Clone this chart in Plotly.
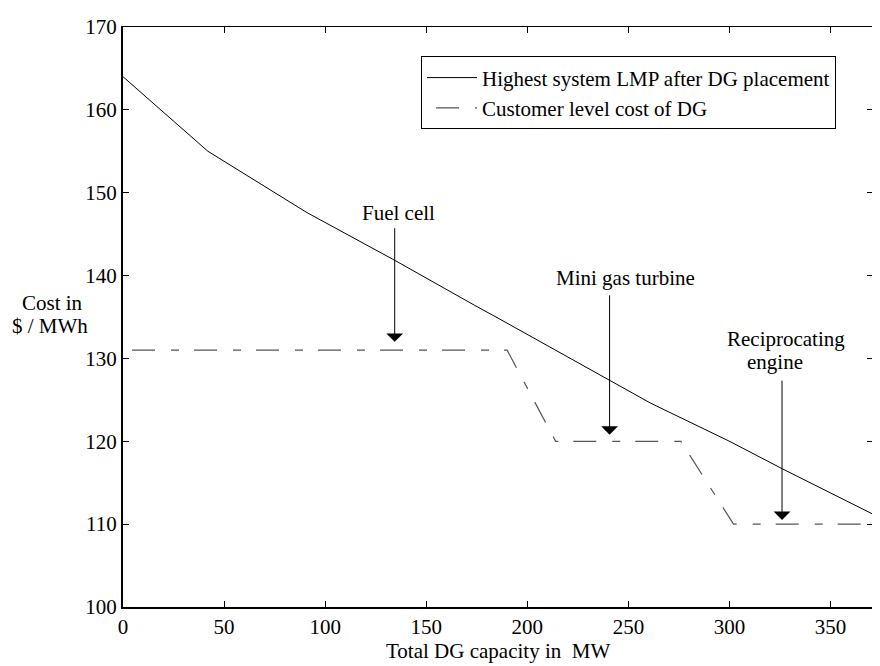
import plotly.graph_objects as go

# ---- data ----
capacity_lmp = [0, 42, 91, 134, 174, 186, 261, 300, 326, 371]
lmp_cost = [164.0, 155.0, 147.6, 141.9, 136.4, 134.8, 124.6, 120.0, 116.7, 111.2]

capacity_dg = [0, 190, 214, 276, 302, 371]
dg_cost = [131, 131, 120, 120, 110, 110]

x_ticks = [0, 50, 100, 150, 200, 250, 300, 350]
y_ticks = [100, 110, 120, 130, 140, 150, 160, 170]

# arrow labels: arrow x, arrow tail y, arrow tip y
arrow_labels = ["Fuel cell", "Mini gas turbine", "Reciprocating engine"]
arrow_x = [134.4, 240.7, 326]
arrow_tail = [145.9, 137.8, 127.5]
arrow_tip = [132.0, 120.8, 110.5]

FONT = "Liberation Serif, Times New Roman, serif"
FS = 21

# page body has an 8px margin; figure is sized to compensate
W, H = 872, 658
ML, MR, MT, MB = 115, 7, 8, 59
PH = H - MT - MB  # plot height in px

fig = go.Figure()
fig.add_trace(go.Scatter(
    x=capacity_lmp, y=lmp_cost, mode="lines",
    name="Highest system LMP after DG placement",
    line=dict(color="black", width=1)))
fig.add_trace(go.Scatter(
    x=capacity_dg, y=dg_cost, mode="lines",
    name="Customer level cost of DG",
    line=dict(color="#555555", width=1.2, dash="0px,9px,23px,16px,8px,6px")))
# carrier trace so the mirrored top/right axes are drawn
fig.add_trace(go.Scatter(x=[None], y=[None], xaxis="x2", yaxis="y2",
                         mode="lines", showlegend=False, hoverinfo="skip"))

annotations = []
for xa, yt, yh in zip(arrow_x, arrow_tail, arrow_tip):
    annotations.append(dict(
        x=xa, y=yh, ax=xa, ay=yt, xref="x", yref="y", axref="x", ayref="y",
        text="", showarrow=True, arrowhead=1, arrowsize=2.8, arrowwidth=1,
        arrowcolor="black"))

text_pos = [
    ("Fuel cell", 136.3, 147.6),
    ("Mini gas turbine", 248.6, 139.7),
    ("Reciprocating", 328.2, 132.4),
    ("engine", 322.3, 129.6),
]
for t, xx, yy in text_pos:
    annotations.append(dict(x=xx, y=yy, xref="x", yref="y", text=t,
                            showarrow=False, xanchor="center", yanchor="middle",
                            font=dict(family=FONT, size=FS, color="black")))

# axis titles (page px -> paper coords; plot spans x 123..873, y 16..607 on page)
def py(page_y):
    return (607 - page_y) / PH

def px(page_x):
    return (page_x - 123) / 750

annotations.append(dict(x=0.5, y=py(652), xref="paper", yref="paper",
                        text="Total DG capacity in  MW", showarrow=False,
                        xanchor="center", yanchor="middle",
                        font=dict(family=FONT, size=FS, color="black")))
annotations.append(dict(x=px(52), y=py(297), xref="paper", yref="paper",
                        text="Cost in", showarrow=False,
                        xanchor="center", yanchor="middle",
                        font=dict(family=FONT, size=FS, color="black")))
annotations.append(dict(x=px(50), y=py(321), xref="paper", yref="paper",
                        text="$ / MWh", showarrow=False,
                        xanchor="center", yanchor="middle",
                        font=dict(family=FONT, size=FS, color="black")))

axis_common = dict(showgrid=False, zeroline=False, ticks="inside", ticklen=6,
                   tickwidth=1, tickcolor="black", showline=True, linecolor="black",
                   ticklabeloverflow="allow",
                   tickfont=dict(family=FONT, size=FS, color="black"))

fig.update_layout(
    width=W, height=H,
    margin=dict(l=ML, r=MR, t=MT, b=MB),
    paper_bgcolor="white", plot_bgcolor="white",
    font=dict(family=FONT, size=FS, color="black"),
    showlegend=True,
    legend=dict(x=px(421), y=py(46), xanchor="left", yanchor="top",
                bordercolor="black", borderwidth=1, bgcolor="white",
                font=dict(family=FONT, size=FS, color="black"),
                itemwidth=50, tracegroupgap=0),
    xaxis=dict(range=[0, 371], tickvals=x_ticks, linewidth=2, **axis_common),
    yaxis=dict(range=[100, 170], tickvals=y_ticks, linewidth=2, **axis_common),
    xaxis2=dict(range=[0, 371], tickvals=x_ticks, overlaying="x", side="top",
                showticklabels=False, linewidth=1, anchor="y2", **axis_common),
    yaxis2=dict(range=[100, 170], tickvals=y_ticks, overlaying="y", side="right",
                showticklabels=False, linewidth=1, anchor="x2", **axis_common),
    annotations=annotations,
)

fig.write_html("out.html")
